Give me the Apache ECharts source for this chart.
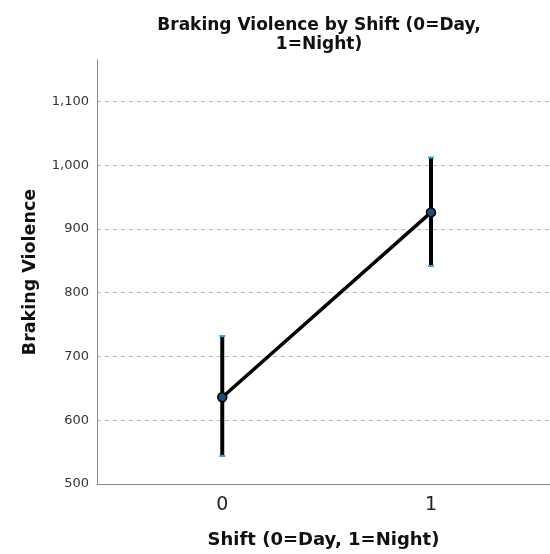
<!DOCTYPE html>
<html><head><meta charset="utf-8">
<script src="https://cdn.jsdelivr.net/npm/echarts@6/dist/echarts.min.js"></script>
<style>html,body{margin:0;padding:0;background:#fff}#c{width:550px;height:554px}</style>
</head><body><div id="c"></div>
<script>
var categories = [0, 1];
var means = [636, 926];
var upper = [732, 1012];
var lower = [544, 842];
var yTicks = [500, 600, 700, 800, 900, 1000, 1100];

var chart = echarts.init(document.getElementById('c'));
var ff = 'DejaVu Sans';
chart.setOption({
  animation: false,
  title: {
    text: 'Braking Violence by Shift (0=Day,\n1=Night)',
    left: 314, top: 11, textAlign: 'center',
    textStyle: {fontFamily: ff, fontSize: 17, fontWeight: 'bold', color: '#111', lineHeight: 19}
  },
  grid: {left: 97, right: 0, top: 60, bottom: 70, outerBoundsMode: 'none', containLabel: false},
  xAxis: {
    type: 'value', min: -0.6, max: 1.57,
    name: 'Shift (0=Day, 1=Night)', nameLocation: 'middle', nameGap: 47,
    nameTextStyle: {fontFamily: ff, fontSize: 18, fontWeight: 'bold', color: '#111'},
    axisLine: {onZero: false, lineStyle: {color: '#888', width: 1}},
    axisTick: {show: false},
    splitLine: {show: false},
    axisLabel: {customValues: categories, fontFamily: ff, fontSize: 19, color: '#222', margin: 12}
  },
  yAxis: {
    type: 'value', min: 500, max: 1165, interval: 100,
    name: 'Braking Violence', nameLocation: 'middle', nameGap: 58, nameRotate: 90,
    nameTextStyle: {fontFamily: ff, fontSize: 17.5, fontWeight: 'bold', color: '#111'},
    axisLine: {show: true, onZero: false, lineStyle: {color: '#888', width: 1}},
    axisTick: {show: false},
    axisLabel: {customValues: yTicks, fontFamily: ff, fontSize: 13, color: '#333', margin: 8,
      formatter: function (v) { return v.toLocaleString('en-US'); }},
    splitLine: {show: true, showMinLine: false, showMaxLine: false,
      lineStyle: {color: '#bbb', type: [4, 4], width: 1}}
  },
  series: [
    {
      type: 'custom',
      z: 3,
      renderItem: function (params, api) {
        var x = api.value(0);
        var hi = api.coord([x, api.value(1)]);
        var lo = api.coord([x, api.value(2)]);
        var w = 3;
        return {type: 'group', children: [
          {type: 'line', shape: {x1: hi[0], y1: hi[1], x2: lo[0], y2: lo[1]}, style: {stroke: '#000', lineWidth: 4}},
          {type: 'line', shape: {x1: hi[0] - w, y1: hi[1], x2: hi[0] + w, y2: hi[1]}, style: {stroke: '#29a8e0', lineWidth: 2}},
          {type: 'line', shape: {x1: lo[0] - w, y1: lo[1], x2: lo[0] + w, y2: lo[1]}, style: {stroke: '#29a8e0', lineWidth: 2}}
        ]};
      },
      data: categories.map(function (c, i) { return [c, upper[i], lower[i]]; })
    },
    {
      type: 'line', z: 4,
      data: categories.map(function (c, i) { return [c, means[i]]; }),
      lineStyle: {color: '#000', width: 3.5},
      symbol: 'circle', symbolSize: 9,
      itemStyle: {color: '#1d4c7a', borderColor: '#000', borderWidth: 1.5}
    }
  ]
});
</script></body></html>
